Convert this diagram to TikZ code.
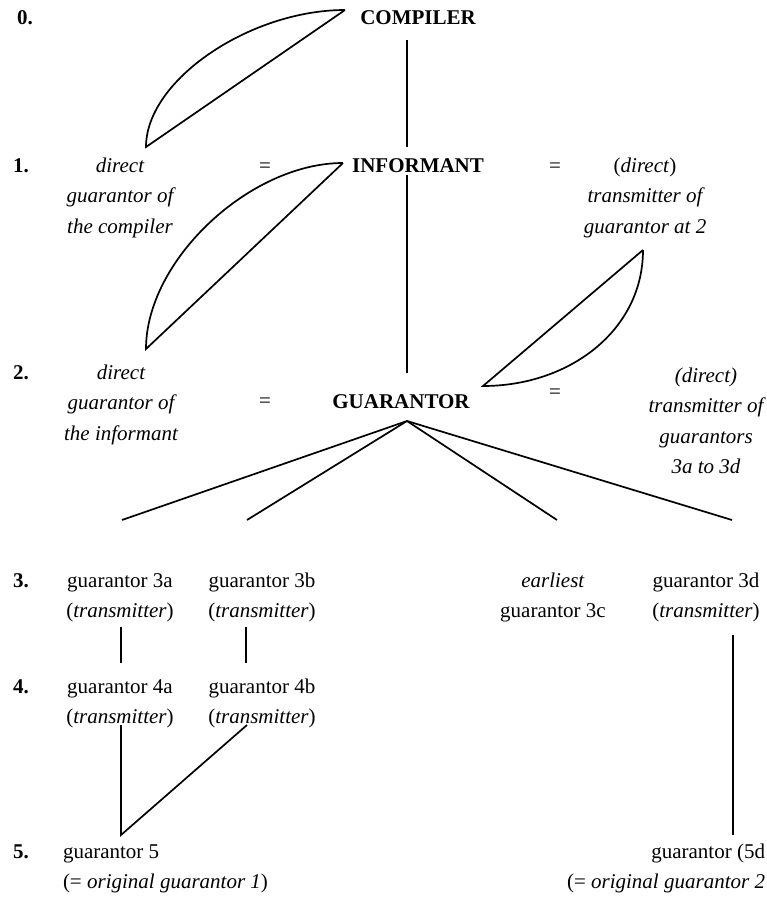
\documentclass[tikz,border=0pt]{standalone}
\usepackage{fontspec}
\setmainfont{Liberation Serif}
\newcommand{\blockt}[1]{\begin{tabular}[t]{@{}c@{}}#1\end{tabular}}
\newcommand{\blockl}[1]{\begin{tabular}[t]{@{}l@{}}#1\end{tabular}}
\newcommand{\blockr}[1]{\begin{tabular}[t]{@{}r@{}}#1\end{tabular}}
\begin{document}
\begin{tikzpicture}[x=1pt,y=-1pt,
  txt/.style={inner sep=0pt,outer sep=0pt,anchor=base,font=\fontsize{21}{30.5}\selectfont},
  num/.style={txt,anchor=base west,font=\fontsize{21}{30.5}\selectfont\bfseries},
  big/.style={txt,font=\fontsize{21}{30.5}\selectfont\bfseries},
  conn/.style={line width=1.7pt,line join=miter}]
\useasboundingbox (0,0) rectangle (766,907);

% level labels
\node[num] (n0) at (17,25) {0.};
\node[num] (n1) at (13,172) {1.};
\node[num] (n2) at (13,379) {2.};
\node[num] (n3) at (13,587) {3.};
\node[num] (n4) at (13,693) {4.};
\node[num] (n5) at (13,858) {5.};

% main chain
\node[big] (compiler) at (418,25) {COMPILER};
\node[big] (informant) at (418,172) {INFORMANT};
\node[big] (guarantor) at (401,408) {GUARANTOR};

% level 1
\node[txt] (l1) at (120,172) {\blockt{\itshape direct\\\itshape guarantor of\\\itshape the compiler}};
\node[txt] (eq1l) at (265,172) {=};
\node[txt] (eq1r) at (555,172) {=};
\node[txt] (r1) at (645,172) {\blockt{(\textit{direct})\\\itshape transmitter of\\\itshape guarantor at 2}};

% level 2
\node[txt] (l2) at (121,379) {\blockt{\itshape direct\\\itshape guarantor of\\\itshape the informant}};
\node[txt] (eq2l) at (265,407) {=};
\node[txt] (eq2r) at (555,398) {=};
\node[txt] (r2) at (706,382) {\blockt{\itshape (direct)\\\itshape transmitter of\\\itshape guarantors\\\itshape 3a to 3d}};

% level 3
\node[txt] (g3a) at (120,587) {\blockt{guarantor 3a\\(\textit{transmitter})}};
\node[txt] (g3b) at (262,587) {\blockt{guarantor 3b\\(\textit{transmitter})}};
\node[txt] (g3c) at (553,587) {\blockt{\textit{earliest}\\guarantor 3c}};
\node[txt] (g3d) at (706,587) {\blockt{guarantor 3d\\(\textit{transmitter})}};

% level 4
\node[txt] (g4a) at (120,693) {\blockt{guarantor 4a\\(\textit{transmitter})}};
\node[txt] (g4b) at (262,693) {\blockt{guarantor 4b\\(\textit{transmitter})}};

% level 5
\node[txt,anchor=base west] (g5) at (63,858) {\blockl{guarantor 5\\(= \textit{original guarantor 1})}};
\node[txt,anchor=base east] (g5d) at (765,858) {\blockr{guarantor (5d\\(= \textit{original guarantor 2}}};

% connector coordinates
\coordinate (c0b) at (407,40);
\coordinate (c1t) at (407,147);
\coordinate (c1b) at (407,175);
\coordinate (c2t) at (407,373);
\coordinate (a0p) at (345,10);
\coordinate (a0q) at (146,147);
\coordinate (a1p) at (343,163);
\coordinate (a1q) at (146,349);
\coordinate (a2p) at (483,386);
\coordinate (a2q) at (643,250);
\coordinate (apex) at (407,421);
\coordinate (f3a) at (122,520);
\coordinate (f3b) at (247,520);
\coordinate (f3c) at (557,520);
\coordinate (f3d) at (732,520);
\coordinate (v3a) at (121,627);
\coordinate (v4a) at (121,663);
\coordinate (v3b) at (246,627);
\coordinate (v4b) at (246,663);
\coordinate (w4a) at (121,725);
\coordinate (w4b) at (247,725);
\coordinate (w5) at (121,835);
\coordinate (d3) at (733,635);
\coordinate (d5) at (733,835);

% connectors
\draw[conn] (c0b) -- (c1t);
\draw[conn] (c1b) -- (c2t);
\draw[conn] (a0p) -- (a0q) .. controls (146,80) and (250,10) .. (a0p);
\draw[conn] (a1p) -- (a1q) .. controls (146,260) and (250,163) .. (a1p);
\draw[conn] (a2q) -- (a2p) .. controls (570,386) and (643,330) .. (a2q);
\draw[conn] (f3a) -- (apex) -- (f3d);
\draw[conn] (apex) -- (f3b);
\draw[conn] (apex) -- (f3c);
\draw[conn] (v3a) -- (v4a);
\draw[conn] (v3b) -- (v4b);
\draw[conn] (w4a) -- (w5) -- (w4b);
\draw[conn] (d3) -- (d5);
\end{tikzpicture}
\end{document}
